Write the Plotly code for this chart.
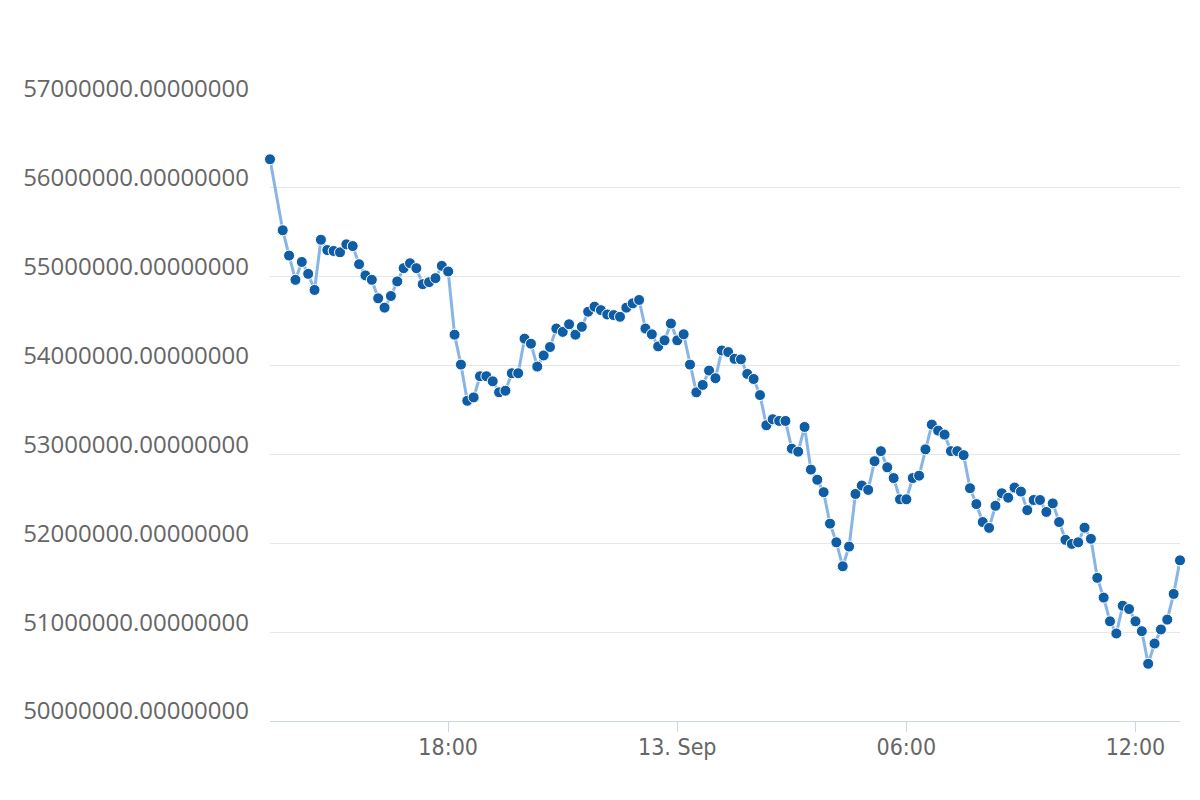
import pandas as pd
import plotly.graph_objects as go

# ---- data ----
first_time = "2018-09-12 13:20"
series_start = "2018-09-12 13:40"   # regular 10-minute samples after the first one
sample_step = "10min"

values = [
    56322000, 55523000, 55238000, 54965000, 55166000, 55032000, 54851000, 55416000,
    55300000, 55290000, 55275000, 55364000, 55345000, 55141000, 55015000, 54965000,
    54757000, 54652000, 54783000, 54947000, 55096000, 55152000, 55096000, 54916000,
    54939000, 54984000, 55122000, 55059000, 54348000, 54011000, 53604000, 53642000,
    53880000, 53880000, 53823000, 53699000, 53717000, 53914000, 53914000, 54303000,
    54246000, 53989000, 54114000, 54209000, 54417000, 54379000, 54465000, 54348000,
    54436000, 54606000, 54663000, 54624000, 54575000, 54568000, 54549000, 54652000,
    54700000, 54738000, 54417000, 54352000, 54216000, 54284000, 54473000, 54284000,
    54352000, 54011000, 53699000, 53782000, 53944000, 53858000, 54170000, 54152000,
    54076000, 54070000, 53906000, 53849000, 53668000, 53328000, 53396000, 53377000,
    53377000, 53065000, 53031000, 53309000, 52829000, 52715000, 52575000, 52221000,
    52011000, 51741000, 51963000, 52555000, 52650000, 52601000, 52924000, 53037000,
    52855000, 52734000, 52495000, 52495000, 52734000, 52761000, 53057000, 53336000,
    53268000, 53223000, 53037000, 53037000, 52992000, 52620000, 52441000, 52239000,
    52173000, 52422000, 52563000, 52513000, 52627000, 52582000, 52373000, 52487000,
    52487000, 52353000, 52449000, 52239000, 52039000, 51993000, 52011000, 52176000,
    52050000, 51611000, 51389000, 51122000, 50985000, 51297000, 51260000, 51122000,
    51011000, 50644000, 50872000, 51030000, 51141000, 51430000, 51808000,
]

x_tick_times = ["2018-09-12 18:00", "2018-09-13 00:00", "2018-09-13 06:00", "2018-09-13 12:00"]
x_tick_labels = ["18:00", "13. Sep", "06:00", "12:00"]
y_tick_values = [50000000, 51000000, 52000000, 53000000, 54000000, 55000000, 56000000, 57000000]

times = [pd.Timestamp(first_time)] + list(
    pd.date_range(series_start, periods=len(values) - 1, freq=sample_step)
)

fig = go.Figure(
    go.Scatter(
        x=times,
        y=values,
        mode="lines+markers",
        line=dict(color="#88b5e5", width=3),
        marker=dict(size=11, color="#0e5da5", line=dict(color="#ffffff", width=1)),
        cliponaxis=False,
        hoverinfo="skip",
    )
)

fig.update_layout(
    width=1200,
    height=800,
    margin=dict(l=270, r=20, t=99, b=79, pad=0),
    paper_bgcolor="#ffffff",
    plot_bgcolor="#ffffff",
    showlegend=False,
    xaxis=dict(
        type="date",
        range=[times[0], times[-1]],
        tickvals=x_tick_times,
        ticktext=x_tick_labels,
        ticks="outside",
        ticklen=10,
        tickwidth=1,
        tickcolor="#ccd6eb",
        showline=True,
        linecolor="#ccd6eb",
        linewidth=1,
        showgrid=False,
        zeroline=False,
        ticklabelstandoff=-5,
        tickfont=dict(family="Liberation Sans Narrow, DejaVu Sans Condensed, Liberation Sans, sans-serif",
                      size=23, color="#666666"),
    ),
    yaxis=dict(
        range=[50000000, 57000000],
        tickvals=y_tick_values,
        tickformat=".8f",
        showgrid=True,
        gridcolor="#e6e6e6",
        gridwidth=1,
        zeroline=False,
        showline=False,
        ticks="",
        ticklabelstandoff=20,
        ticklabelshift=-10,
        tickfont=dict(family="Open Sans, sans-serif", size=24, color="#666666"),
    ),
)

fig.write_html("out.html", config={"displayModeBar": False},
               post_script="document.body.style.margin='0';")
